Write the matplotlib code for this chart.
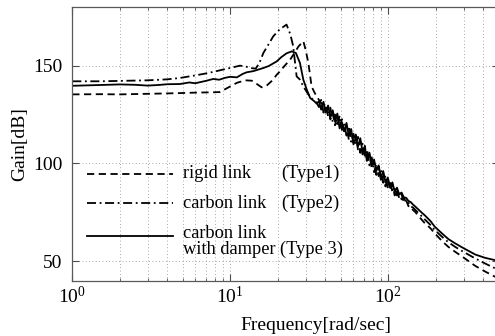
import matplotlib
matplotlib.use("Agg")
import matplotlib.pyplot as plt
from matplotlib.lines import Line2D
from matplotlib.ticker import LogLocator, FixedLocator, NullFormatter

plt.rcParams['font.family'] = ['Liberation Serif', 'DejaVu Serif']
plt.rcParams['mathtext.fontset'] = 'stix'

# ---------------- data ----------------
# Type1 : rigid link (dashed)
freq_rigid = [1, 1.5, 2, 3, 4, 5, 6, 7, 8, 8.6, 10, 11, 12.4, 13.7, 14.8, 15.8, 17, 18.5,
              19.7, 20.6, 22, 23.9, 25.5, 27, 29, 30, 31.2, 32, 32.7,
              34, 35.2, 36.4, 37.6, 38.9, 40.2, 41.6, 43, 44.5, 46, 47.6, 49.2, 50.9, 52.6,
              54.4, 56.3, 58.2, 60.2, 62.2, 64.3, 66.5, 68.8, 71.1, 73.5, 76, 78.6, 81.3,
              84, 86.9, 89.8, 92.9, 96, 99.3, 102.7, 106.2, 109.8, 113.5, 117.4, 121.4,
              125.5, 129.8, 134.2, 138.8, 143.5, 148.4, 153.4, 158.6, 164, 170,
              185, 197, 220, 240, 265, 300, 355, 410, 475, 510]
gain_rigid = [135.3, 135.4, 135.3, 135.6, 135.8, 136.0, 136.2, 136.3, 136.4, 136.5, 139.4,
              141.2, 142.5, 142.3, 140.5, 138.9, 139.8, 142.5, 145.4, 147.0, 149.8, 153.0,
              156.5, 159.8, 162.5, 158.0, 151.4, 145.0, 139.4,
              136.5, 134.3, 132.5, 130.8, 131.0, 125.2, 129.1, 122.5, 125.7, 119.5, 124.5,
              118.9, 122.6, 115.4, 119.2, 112.0, 117.1, 110.7, 114.8, 107.1, 111.4, 104.6,
              109.0, 100.0, 104.5, 97.6, 101.0, 94.1, 98.5, 91.6, 95.1, 88.2, 92.3, 86.5,
              89.3, 83.6, 86.6, 82.1, 84.1, 80.1, 81.1, 78.1, 78.1, 76.1, 75.1, 73.6, 72.3,
              70.9, 69.5,
              66.8, 64.2, 60.1, 57.3, 54.8, 51.8, 47.6, 44.7, 42.0, 40.8]

# Type2 : carbon link (dash-dot)
freq_carbon = [1, 1.5, 2, 3, 4, 4.8, 6, 7, 8, 9, 10, 11.5, 12.5, 13.3, 14.5, 15.3, 16.2,
               17.5, 18.7, 20.5, 22.7, 24, 25, 26.3, 27.5, 29, 30.5, 32,
               34, 35.2, 36.4, 37.6, 38.9, 40.2, 41.6, 43, 44.5, 46, 47.6, 49.2, 50.9, 52.6,
               54.4, 56.3, 58.2, 60.2, 62.2, 64.3, 66.5, 68.8, 71.1, 73.5, 76, 78.6, 81.3,
               84, 86.9, 89.8, 92.9, 96, 99.3, 102.7, 106.2, 109.8, 113.5, 117.4, 121.4,
               125.5, 129.8, 134.2, 138.8, 143.5, 148.4, 153.4, 158.6, 164, 170,
               185, 197, 220, 240, 265, 300, 355, 410, 475, 510]
gain_carbon = [142.0, 142.0, 142.2, 142.5, 143.0, 143.7, 145.0, 146.0, 147.0, 148.0, 148.8,
               150.0, 149.6, 148.8, 148.5, 151.5, 156.5, 161.0, 165.0, 168.5, 171.0, 166.0,
               160.0, 144.5, 143.0, 139.4, 136.5, 134.0,
               132.0, 131.0, 128.8, 132.5, 126.0, 129.7, 124.1, 128.5, 121.2, 125.0, 119.0,
               124.4, 117.1, 120.4, 114.2, 119.0, 111.1, 115.2, 109.3, 113.6, 105.4, 110.1,
               103.5, 107.0, 99.0, 103.1, 95.5, 99.6, 93.5, 97.1, 90.1, 93.7, 87.3, 91.0,
               85.3, 88.1, 83.6, 85.6, 81.6, 82.6, 79.8, 80.0, 78.0, 77.4, 76.2, 75.0, 73.9,
               72.7, 71.4,
               68.5, 65.9, 62.3, 59.7, 57.3, 54.7, 51.4, 48.8, 46.3, 45.2]

# Type3 : carbon link with damper (solid)
freq_damper = [1, 1.5, 2, 2.5, 3, 3.5, 4, 4.8, 5.5, 6, 7, 7.8, 8.5, 9.3, 10, 11, 12, 12.7,
               14, 16.2, 17.5, 19.7, 21, 22.7, 24.5, 26, 27.6, 29, 30.5, 32,
               34, 35.2, 36.4, 37.6, 38.9, 40.2, 41.6, 43, 44.5, 46, 47.6, 49.2, 50.9, 52.6,
               54.4, 56.3, 58.2, 60.2, 62.2, 64.3, 66.5, 68.8, 71.1, 73.5, 76, 78.6, 81.3,
               84, 86.9, 89.8, 92.9, 96, 99.3, 102.7, 106.2, 109.8, 113.5, 117.4, 121.4,
               125.5, 129.8, 134.2, 138.8, 143.5, 148.4, 153.4, 158.6, 164, 170,
               185, 197, 220, 240, 265, 300, 355, 410, 475, 510]
gain_damper = [139.7, 140.1, 140.4, 140.2, 139.8, 140.1, 140.5, 140.6, 141.4, 141.0, 142.2,
               143.2, 142.8, 143.8, 144.3, 144.0, 145.8, 146.6, 147.2, 148.8, 149.8, 152.2,
               154.3, 156.3, 157.3, 156.5, 151.4, 142.8, 137.7, 133.5,
               131.8, 130.6, 131.8, 127.5, 131.5, 126.2, 129.6, 123.5, 127.2, 121.5, 125.5,
               117.9, 121.1, 116.4, 120.7, 114.0, 117.6, 109.7, 113.3, 108.6, 112.9, 105.6,
               108.0, 102.0, 105.5, 98.6, 102.0, 96.1, 99.0, 92.6, 96.1, 90.2, 92.8, 87.5,
               90.3, 85.6, 87.6, 84.1, 85.1, 82.6, 82.4, 80.8, 80.2, 78.9, 77.9, 76.8, 75.7,
               74.6, 73.5,
               70.5, 67.6, 64.0, 61.3, 59.1, 56.6, 53.4, 51.7, 50.5, 49.8]

x_limits = (1, 500)
y_limits = (40, 180)
y_ticks = [50, 100, 150]
x_major = [1, 10, 100]

legend_names = ["rigid link", "carbon link", "carbon link\nwith damper"]
legend_types = ["(Type1)", "(Type2)", "(Type 3)"]

# ---------------- figure ----------------
W, H = 495, 336
fig = plt.figure(figsize=(W / 100, H / 100), dpi=100)
ax_l, ax_r, ax_t, ax_b = 72.3, 498.7, 7.0, 280.7
ax = fig.add_axes([ax_l / W, 1 - ax_b / H, (ax_r - ax_l) / W, (ax_b - ax_t) / H])

lw = 1.3
ax.plot(freq_rigid, gain_rigid, color='black', lw=lw, dashes=(4, 2.5))
ax.plot(freq_carbon, gain_carbon, color='black', lw=lw, dashes=(5, 2, 1, 2))
ax.plot(freq_damper, gain_damper, color='black', lw=lw)

ax.set_xscale('log')
ax.set_xlim(*x_limits)
ax.set_ylim(*y_limits)
ax.xaxis.set_major_locator(FixedLocator(x_major))
ax.xaxis.set_minor_locator(LogLocator(base=10, subs=range(2, 10)))
ax.xaxis.set_minor_formatter(NullFormatter())
ax.set_yticks(y_ticks)

grid_kw = dict(color='0.55', lw=0.6, linestyle=(0, (1, 3)))
ax.grid(True, which='major', axis='both', **grid_kw)
ax.grid(True, which='minor', axis='x', **grid_kw)
ax.set_axisbelow(True)

ax.tick_params(which='both', direction='in', top=True, right=True, colors='0.3',
               labelcolor='black', labelsize=14)
ax.tick_params(which='major', length=5, width=0.8)
ax.tick_params(which='minor', length=2.5, width=0.6)
ax.tick_params(axis='y', pad=7)
ax.tick_params(axis='x', pad=4)
for s in ax.spines.values():
    s.set_color('0.35')
    s.set_linewidth(0.9)

# legend (drawn manually, no frame)
def fx(px):
    return (px - ax_l) / (ax_r - ax_l)

def fy(py):
    return (ax_b - py) / (ax_b - ax_t)

styles = [dict(dashes=(4, 2.5)), dict(dashes=(5, 2, 1, 2)), dict()]
line_y = [174, 203, 236]
for st, yy in zip(styles, line_y):
    ax.add_line(Line2D([fx(87), fx(173)], [fy(yy), fy(yy)], transform=ax.transAxes,
                       color='black', lw=lw, **st))

fs = 13.2
ax.text(fx(183), fy(173), legend_names[0], transform=ax.transAxes, fontsize=fs, va='center')
ax.text(fx(281), fy(173), legend_types[0], transform=ax.transAxes, fontsize=fs, va='center')
ax.text(fx(183), fy(203), legend_names[1], transform=ax.transAxes, fontsize=fs, va='center')
ax.text(fx(281), fy(203), legend_types[1], transform=ax.transAxes, fontsize=fs, va='center')
n1, n2 = legend_names[2].split("\n")
ax.text(fx(183), fy(233), n1, transform=ax.transAxes, fontsize=fs, va='center')
ax.text(fx(183), fy(249), n2, transform=ax.transAxes, fontsize=fs, va='center')
ax.text(fx(280), fy(249), legend_types[2], transform=ax.transAxes, fontsize=fs, va='center')

fig.text(19.5 / W, 1 - 144 / H, "Gain[dB]", rotation=90, ha='center', va='center', fontsize=14)
fig.text(316 / W, 1 - 326 / H, "Frequency[rad/sec]", ha='center', va='center', fontsize=14)

fig.savefig("out.png", dpi=100)
